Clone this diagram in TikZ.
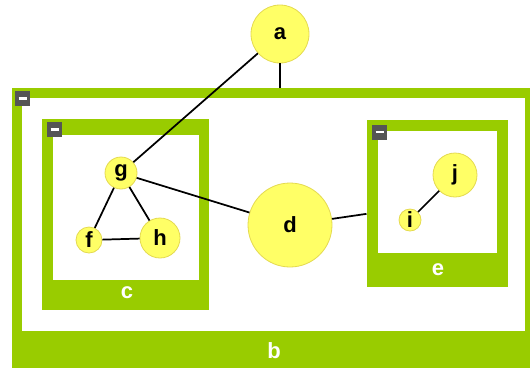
\documentclass[tikz,border=0pt]{standalone}
\usepackage{fontspec}
\setmainfont{Liberation Sans}
\definecolor{grpgreen}{RGB}{153,204,0}
\definecolor{vtxyellow}{RGB}{255,255,102}
\definecolor{vtxedge}{RGB}{228,218,80}
\definecolor{btngrey}{RGB}{85,85,85}

\tikzset{every picture/.style={line width=0.75pt}}
\tikzset{
  vtx/.style={circle, fill=vtxyellow, draw=vtxedge, line width=0.6pt, inner sep=0pt,
    font=\fontsize{16.5}{17}\selectfont\bfseries},
  grp/.style={rectangle, fill=grpgreen, inner sep=0pt},
  grplabel/.style={text=white, inner sep=0.75pt, font=\fontsize{16.5}{17}\selectfont\bfseries},
  minbtn/.style={rectangle, fill=btngrey, minimum size=11.25pt, inner sep=0pt, text=white},
  link/.style={line width=1.3pt}
}

\begin{document}
\begin{tikzpicture}[x=0.75pt,y=0.75pt,yscale=-1,xscale=1]
    \useasboundingbox (0,0) rectangle (530,369);

    %Shape: Group b
    \node [grp, minimum width=388.5pt, minimum height=210pt] (boxb) at (271,228) {};
    \fill [white] (22,98) rectangle (525,331);
    %Shape: Group c
    \node [grp, minimum width=125.25pt, minimum height=143.25pt] (boxc) at (125.5,214.5) {};
    \fill [white] (53,135) rectangle (199,280);
    %Shape: Group e
    \node [grp, minimum width=105.75pt, minimum height=125.25pt] (boxe) at (437.5,203.5) {};
    \fill [white] (378,131) rectangle (497,253);

    % Group labels
    \node [grplabel] (lblb) at (274,351) {b};
    \node [grplabel] (lblc) at (127,293) {c};
    \node [grplabel] (lble) at (438,270) {e};

    % Collapse buttons
    \node [minbtn] (btnb) at (22.5,98.5) {\rule{6pt}{2pt}};
    \node [minbtn] (btnc) at (54.5,129.5) {\rule{6pt}{2pt}};
    \node [minbtn] (btne) at (379.5,132) {\rule{6pt}{2pt}};

    % Vertices
    \node [vtx, minimum size=43.5pt] (a) at (280,34) {a};
    \node [vtx, minimum size=24pt] (g) at (121,173) {g};
    \node [vtx, minimum size=19.5pt] (f) at (89,240) {f};
    \node [vtx, minimum size=30pt] (h) at (160,238) {h};
    \node [vtx, minimum size=63pt] (d) at (290,225) {d};
    \node [vtx, minimum size=33pt] (j) at (455,175) {j};
    \node [vtx, minimum size=16.5pt] (i) at (410,220) {i};

    % Links
    \draw [link] (a) -- (a |- boxb.north);
    \draw [link] (a) -- (g);
    \draw [link] (g) -- (f);
    \draw [link] (g) -- (h);
    \draw [link] (f) -- (h);
    \draw [link] (g) -- (d);
    \draw [link] (d) -- (boxe);
    \draw [link] (i) -- (j);

\end{tikzpicture}
\end{document}
